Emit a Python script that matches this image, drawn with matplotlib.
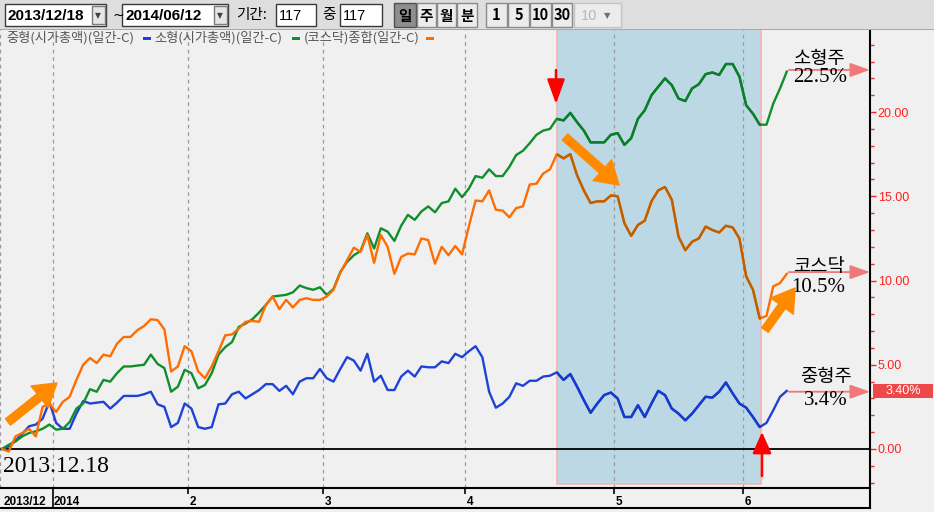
import matplotlib
matplotlib.use("Agg")
import numpy as np
import matplotlib.pyplot as plt
import matplotlib.transforms as mtransforms
from matplotlib.patches import Rectangle

# daily % change since 2013/12/18
mid_cap = [0, 0.15, 0.5, 0.9, 1.35, 1.45, 1.8, 2.8, 1.55, 1.2, 1.2, 2.1, 2.85, 2.7, 2.75,
           2.8, 2.4, 2.75, 3.15, 3.15, 3.15, 3.25, 3.4, 2.65, 2.5, 1.3, 1.55, 2.7, 2.4, 1.3,
           1.2, 1.3, 2.65, 2.7, 3.25, 3.4, 3.0, 3.25, 3.5, 3.85, 3.85, 3.45, 3.75, 3.25, 4.0,
           4.2, 4.2, 4.75, 4.2, 4.0, 4.75, 5.45, 5.25, 4.65, 5.65, 4.0, 4.35, 3.5, 3.5, 4.3,
           4.65, 4.3, 4.9, 4.85, 4.85, 5.2, 5.1, 5.65, 5.45, 5.8, 6.1, 5.45, 3.4, 2.45, 2.7,
           3.1, 3.9, 3.75, 4.05, 4.05,
           4.3, 4.35, 4.55, 4.1, 4.45, 3.7, 2.9, 2.15, 2.7, 3.2, 3.35, 3.0, 1.9, 1.9, 2.6,
           1.9, 2.7, 3.45, 3.2, 2.4, 2.1, 1.7, 2.1, 2.6, 3.1, 3.05, 3.4, 3.95, 3.3, 2.7,
           2.45, 1.9, 1.3, 1.55, 2.3, 3.1, 3.45]
small_cap = [0, 0.25, 0.45, 0.75, 0.95, 1.05, 1.2, 1.45, 1.15, 1.2, 1.6, 2.4, 2.7, 3.55, 3.4,
             4.1, 4.0, 4.5, 4.9, 4.9, 4.95, 5.0, 5.6, 5.05, 4.8, 3.4, 3.7, 4.7, 4.5, 3.6,
             3.8, 4.5, 5.6, 6.05, 6.35, 7.25, 7.45, 7.7, 8.1, 8.55, 9.05, 9.1, 9.15, 9.3, 9.7,
             9.55, 9.45, 9.6, 9.15, 9.5, 10.5, 11.1, 11.5, 11.75, 12.8, 11.9, 13.1, 12.9, 12.35, 13.25,
             13.9, 13.6, 14.1, 14.4, 14.05, 14.6, 14.7, 15.45, 14.95, 15.45, 16.2, 16.1, 16.6, 16.2, 16.2,
             16.75, 17.45, 17.7, 18.15, 18.65,
             18.9, 19.0, 19.6, 19.5, 19.95, 19.4, 18.9, 18.2, 18.2, 18.2, 18.65, 18.75, 18.05, 18.45, 19.6,
             20.1, 21.0, 21.5, 22.0, 21.6, 20.8, 20.65, 21.4, 21.65, 22.25, 22.35, 22.2, 22.85, 22.85, 22.1,
             20.4, 19.9, 19.25, 19.25, 20.5, 21.4, 22.4]
kosdaq = [0, -0.15, 0.75, 0.95, 1.2, 0.75, 2.5, 2.7, 2.2, 2.8, 3.1, 4.1, 5.0, 5.4, 5.1,
          5.6, 5.5, 6.25, 6.65, 6.65, 7.05, 7.3, 7.7, 7.65, 7.1, 4.6, 4.9, 6.1, 5.8, 4.6,
          4.2, 4.9, 5.8, 6.75, 6.8, 7.15, 7.55, 7.6, 7.55, 8.55, 9.05, 8.3, 8.85, 8.4, 8.85,
          8.95, 8.85, 8.85, 9.05, 9.45, 10.45, 11.2, 11.95, 11.7, 12.7, 11.05, 12.7, 12.0, 10.4, 11.4,
          11.6, 11.55, 12.5, 12.4, 11.0, 12.0, 11.5, 12.05, 11.55, 13.2, 14.75, 14.7, 15.35, 14.2, 14.15,
          13.75, 14.3, 14.4, 15.7, 15.75,
          16.35, 16.6, 17.5, 17.25, 17.5, 16.25, 15.35, 14.6, 14.7, 14.7, 15.05, 15.0, 13.4, 12.65, 13.3,
          13.55, 14.7, 15.35, 15.55, 14.8, 12.6, 11.8, 12.3, 12.5, 13.2, 13.0, 12.85, 13.25, 13.15, 12.5,
          10.25, 9.45, 7.75, 7.9, 9.65, 9.85, 10.4]

series_names = ["중형(시가총액)(일간-C)", "소형(시가총액)(일간-C)", "(코스닥)종합(일간-C)"]
series_colors = ["#1e42d8", "#0f8f2c", "#ff6c00"]

month_pos = [-0.3, 7.5, 27.5, 47.5, 68.5, 90.5, 109.5]   # month boundaries (day index)
month_labels = ["2013/12", "2014", "2", "3", "4", "5", "6"]
shade_start, shade_end = 82.0, 112.2

end_labels = [("소형주", "22.5%", 22.5), ("코스닥", "10.5%", 10.5), ("중형주", "3.4%", 3.4)]

W, H = 934, 512
KR = ["Noto Sans CJK KR", "DejaVu Sans"]
SERIF_KR = ["Liberation Serif", "Noto Sans CJK KR"]


def fx(x):
    return x / W


def fy(y):
    return 1 - y / H


fig = plt.figure(figsize=(W / 100, H / 100), dpi=100, facecolor="#f0f0f0")

# ---- main chart
ax = fig.add_axes([0, fy(488), fx(870), (488 - 30) / H])
ax.set_facecolor("#f0f0f0")
ax.set_xlim(-0.296, 128.3)
ax.set_ylim(-2.315, 24.87)
days = np.arange(len(mid_cap))

shade = Rectangle((shade_start, -2.05), shade_end - shade_start, 30,
                  facecolor="#bcd8e4", edgecolor="#f2b4b4", lw=1.2, zorder=1)
ax.add_patch(shade)

for g in month_pos:
    ax.axvline(g, color="#9a9a9a", ls=(0, (3, 3)), lw=0.9, zorder=2)
ax.axhline(0, color="black", lw=1.3, zorder=2.5)

mult = np.array([0.75, 0.88, 0.95])
for vals, c in zip([mid_cap, small_cap, kosdaq], series_colors):
    ax.plot(days, vals, color=c, lw=1.7, zorder=3)
    dark = tuple(np.array(matplotlib.colors.to_rgb(c)) * mult)
    ln, = ax.plot(days, vals, color=dark, lw=1.7, zorder=3.1)
    ln.set_clip_path(shade)

for s in ["left", "top", "bottom"]:
    ax.spines[s].set_visible(False)
ax.spines["right"].set_linewidth(1.5)
ax.set_xticks([])
ax.yaxis.tick_right()
ax.set_yticks([0, 5, 10, 15, 20])
ax.set_yticks(range(-2, 25), minor=True)
ax.yaxis.set_major_formatter("{x:.2f}")
ax.tick_params(axis="y", which="major", colors="#ff2020", length=4, width=1,
               labelsize=9, pad=1.5)
ax.tick_params(axis="y", which="minor", colors="#ff2020", length=3, width=1)
for t in ax.get_yticklabels():
    t.set_family("Liberation Sans")

# last value box on the right axis
blend = mtransforms.blended_transform_factory(ax.transAxes, ax.transData)
ax.add_patch(Rectangle((1.0035, mid_cap[-1] - 0.42), 0.069, 0.8, transform=blend,
                       facecolor="#ee4848", edgecolor="none", clip_on=False))
ax.text(1.038, mid_cap[-1] - 0.02, f"{mid_cap[-1] - 0.05:.2f}%", transform=blend, color="white",
        fontsize=9, family="Liberation Sans", ha="center", va="center")

# end labels with pink arrows
for name, pct, lvl in end_labels:
    ax.annotate("", xy=(1.0, lvl), xycoords=blend, xytext=(116.3, lvl), textcoords="data",
                arrowprops=dict(arrowstyle="-|>,head_length=1.22,head_width=0.43",
                                mutation_scale=10, color="#f07878", lw=1.3,
                                shrinkA=0, shrinkB=0), annotation_clip=False)
ax.text(120.8, 23.15, "소형주", family=KR, fontsize=13.5, ha="center", va="center")
ax.text(120.9, 22.05, "22.5%", family=SERIF_KR, fontsize=15, ha="center", va="center")
ax.text(120.8, 10.85, "코스닥", family=KR, fontsize=13.5, ha="center", va="center")
ax.text(120.7, 9.6, "10.5%", family=SERIF_KR, fontsize=15, ha="center", va="center")
ax.text(121.8, 4.3, "중형주", family=KR, fontsize=13.5, ha="center", va="center")
ax.text(121.8, 2.9, "3.4%", family=SERIF_KR, fontsize=15, ha="center", va="center")
ax.text(0.1, -1.05, "2013.12.18", family="Liberation Serif", fontsize=17, ha="left", va="center")

# red markers at peak and trough
ax.annotate("", xy=(556, H - 104), xycoords="figure pixels", xytext=(556, H - 70),
            textcoords="figure pixels",
            arrowprops=dict(arrowstyle="-|>,head_length=1.5,head_width=0.54", mutation_scale=10,
                            color="#ff0000", lw=1.8, shrinkA=0, shrinkB=0))
ax.annotate("", xy=(762, H - 432), xycoords="figure pixels", xytext=(762, H - 476),
            textcoords="figure pixels",
            arrowprops=dict(arrowstyle="-|>,head_length=1.3,head_width=0.58", mutation_scale=10,
                            color="#ff0000", lw=1.8, shrinkA=0, shrinkB=0))

# big orange arrows
for (tx, ty), (hx, hy) in [((8, 422), (57, 383)), ((565, 137), (619, 185)), ((765, 330), (795, 288))]:
    ax.annotate("", xy=(hx, H - hy), xycoords="figure pixels", xytext=(tx, H - ty),
                textcoords="figure pixels",
                arrowprops=dict(arrowstyle="simple,head_length=0.8,head_width=1.0,tail_width=0.29",
                                mutation_scale=20, color="#ff8a00", shrinkA=0, shrinkB=0))

# ---- date strip
axd = fig.add_axes([0, fy(508), fx(870), 20 / H])
axd.set_facecolor("#f0f0f0")
axd.set_xlim(ax.get_xlim())
axd.set_ylim(0, 1)
axd.set_xticks([])
axd.set_yticks([])
axd.spines["left"].set_visible(False)
for s in ["top", "bottom", "right"]:
    axd.spines[s].set_linewidth(1.5)
axd.vlines(month_pos[1], 0, 1, color="black", lw=1.2)
axd.vlines(month_pos[2:], 0.68, 1, color="black", lw=1.2)
for p, lab in zip(month_pos, month_labels):
    axd.text(max(p, 0.0) + 0.2, 0.32, lab, fontsize=8.5, fontweight="bold",
             family="Liberation Sans", ha="left", va="center")

# ---- toolbar
fig.add_artist(Rectangle((0, fy(30)), 1, 30 / H, transform=fig.transFigure,
                         facecolor="#dedede", edgecolor="none"))
fig.add_artist(Rectangle((0, fy(30)), 1, 0.8 / H, transform=fig.transFigure,
                         facecolor="#a8a8a8", edgecolor="none"))


def box(x0, x1, y0=4, y1=26, fc="white", ec="#3a3a3a", lw=1.0):
    fig.add_artist(Rectangle((fx(x0), fy(y1)), (x1 - x0) / W, (y1 - y0) / H,
                             transform=fig.transFigure, facecolor=fc, edgecolor=ec, lw=lw))


def label(x, txt, **kw):
    kw.setdefault("fontsize", 10.5)
    kw.setdefault("family", KR)
    fig.text(fx(x), fy(15.5), txt, va="center", **kw)


box(5, 106)
label(8, "2013/12/18", fontweight="bold", family="Liberation Sans", fontsize=11)
box(92, 105, 6, 24, fc="#e6e6e6", ec="#7a7a7a")
label(94.5, "▼", fontsize=5.5, color="#404040", family="DejaVu Sans")
label(113, "~", family="DejaVu Sans", fontsize=10)
box(122, 228)
label(125, "2014/06/12", fontweight="bold", family="Liberation Sans", fontsize=11)
box(214, 227, 6, 24, fc="#e6e6e6", ec="#7a7a7a")
label(216.5, "▼", fontsize=5.5, color="#404040", family="DejaVu Sans")
label(236, "기간:", fontsize=10.5)
box(276, 316)
label(279, "117", family="Liberation Sans", fontsize=10.5)
box(340, 382)
label(322, "중", fontsize=10.5)
label(343, "117", family="Liberation Sans", fontsize=10.5)

btns = [(394, 416, "일"), (417, 436, "주"), (437, 456, "월"), (457, 477, "분"),
        (486, 507, "1"), (508, 529, "5"), (530, 551, "10"), (552, 572, "30")]
for i, (a, b, t) in enumerate(btns):
    box(a, b, 3, 27, fc="#8e8e8e" if i == 0 else "#ececec",
        ec="#505050" if i == 0 else "#8a8a8a")
    fig.text(fx((a + b) / 2), fy(15.5), t, ha="center", va="center", fontsize=10.5,
             family=KR, fontweight="bold")
box(574, 621, 3, 27, fc="#ececec", ec="#c4c4c4")
fig.text(fx(581), fy(15.5), "10", va="center", fontsize=10.5, family="Liberation Sans", color="#b8b8b8")
label(604, "▼", fontsize=6, color="#707070", family="DejaVu Sans")

# ---- legend row
leg_x = [(6, 143), (154, 292), (304, 426)]
for (tx, dx), name, c in zip(leg_x, series_names, series_colors):
    fig.text(fx(tx), fy(38), name, va="center", fontsize=9.5, family=KR, color="#555555")
    fig.add_artist(Rectangle((fx(dx), fy(39.5)), 8 / W, 3 / H, transform=fig.transFigure,
                             facecolor=c, edgecolor="none"))

fig.savefig("out.png", dpi=100, facecolor=fig.get_facecolor())
